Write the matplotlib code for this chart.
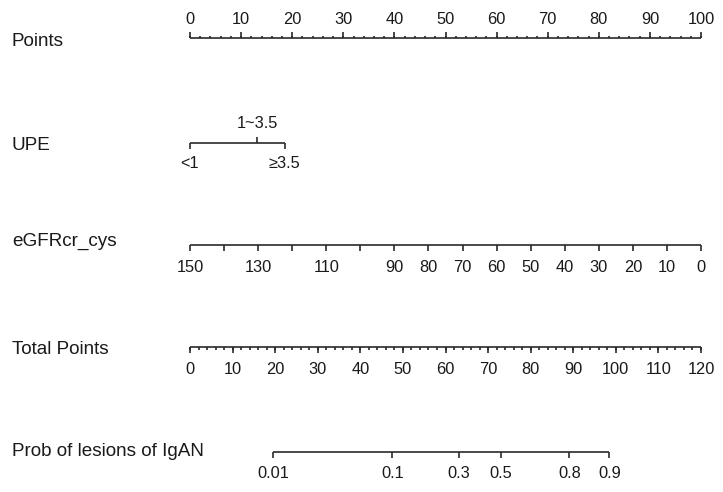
import matplotlib
matplotlib.use("Agg")
import matplotlib.pyplot as plt

plt.rcParams['font.family'] = ['Liberation Sans', 'DejaVu Sans']

# ---- data ----
row_labels = ["Points", "UPE", "eGFRcr_cys", "Total Points", "Prob of lesions of IgAN"]

points_ticks = list(range(0, 101, 10))
points_minor = list(range(0, 101, 2))

upe_levels = ["<1", "1~3.5", "\u22653.5"]
upe_points = [0, 13.2, 18.5]

egfr_values = [150, 140, 130, 120, 110, 100, 90, 80, 70, 60, 50, 40, 30, 20, 10, 0]
egfr_labelled = [150, 130, 110, 90, 80, 70, 60, 50, 40, 30, 20, 10, 0]
egfr_points = [0.0, 6.67, 13.33, 20.0, 26.67, 33.33, 40.0, 46.67, 53.33, 60.0,
               66.67, 73.33, 80.0, 86.67, 93.33, 100.0]

total_ticks = list(range(0, 121, 10))
total_minor = list(range(0, 121, 2))
total_max = 120

prob_labels = ["0.01", "0.1", "0.3", "0.5", "0.8", "0.9"]
prob_total_points = [19.6, 47.5, 63.1, 73.0, 89.1, 98.5]

# ---- layout ----
W, H = 723, 492
px_per_pt = 5.11
x0_px = 190
fig = plt.figure(figsize=(W / 100, H / 100), dpi=100)
ax = fig.add_axes([0, 0, 1, 1])
ax.set_xlim(-x0_px / px_per_pt, (W - x0_px) / px_per_pt)
ax.set_ylim(H, 0)
ax.axis('off')

lc = '#2a2a2a'
tc = '#1a1a1a'
lw = 1.2
fs_tick = 11.8
fs_lab = 13.6
lab_x = (12 - x0_px) / px_per_pt

def tp2x(t):
    return t * 100.0 / total_max

def hline(x1, x2, y):
    ax.plot([x1, x2], [y, y], color=lc, lw=lw, solid_capstyle='butt')

def tick(x, y, length):
    ax.plot([x, x], [y, y + length], color=lc, lw=lw, solid_capstyle='butt')

# Row labels
row_y = [42, 145, 241, 350, 451]
for lab, y in zip(row_labels, row_y):
    ax.text(lab_x, y, lab, fontsize=fs_lab, color=tc, ha='left', va='center')

# Points axis (ticks upward, labels above)
y = 38
hline(0, 100, y)
for v in points_minor:
    tick(v, y, -2.5)
for v in points_ticks:
    tick(v, y, -6)
    ax.text(v, 19, str(v), fontsize=fs_tick, color=tc, ha='center', va='center')

# UPE
y = 143
hline(min(upe_points), max(upe_points), y)
for i, (lev, p) in enumerate(zip(upe_levels, upe_points)):
    if i % 2 == 1:
        tick(p, y, -6)
        ax.text(p, 124, lev, fontsize=fs_tick, color=tc, ha='center', va='center')
    else:
        tick(p, y, 6)
        ax.text(p, 163, lev, fontsize=fs_tick, color=tc, ha='center', va='center')

# eGFR
y = 245
hline(min(egfr_points), max(egfr_points), y)
for v, p in zip(egfr_values, egfr_points):
    tick(p, y, 6)
    if v in egfr_labelled:
        ax.text(p, 267, str(v), fontsize=fs_tick, color=tc, ha='center', va='center')

# Total points (ticks downward, labels below)
y = 347
hline(tp2x(0), tp2x(total_max), y)
for v in total_minor:
    tick(tp2x(v), y, 3)
for v in total_ticks:
    tick(tp2x(v), y, 6)
    ax.text(tp2x(v), 369, str(v), fontsize=fs_tick, color=tc, ha='center', va='center')

# Probability
y = 452
hline(tp2x(min(prob_total_points)), tp2x(max(prob_total_points)), y)
for lab, t in zip(prob_labels, prob_total_points):
    tick(tp2x(t), y, 6)
    ax.text(tp2x(t), 473, lab, fontsize=fs_tick, color=tc, ha='center', va='center')

fig.savefig("out.png", dpi=100, facecolor='white')
